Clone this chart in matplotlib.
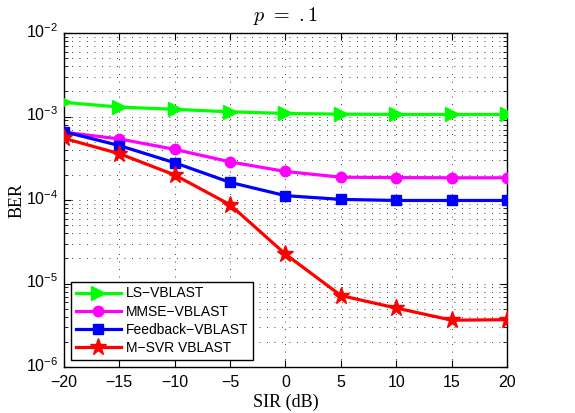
import matplotlib
matplotlib.use("Agg")
import matplotlib.pyplot as plt
import matplotlib.transforms as mtransforms
import numpy as np

sir = [-20, -15, -10, -5, 0, 5, 10, 15, 20]
ls_vblast = [1.48e-3, 1.30e-3, 1.22e-3, 1.14e-3, 1.09e-3, 1.07e-3, 1.06e-3, 1.06e-3, 1.06e-3]
mmse_vblast = [6.5e-4, 5.4e-4, 4.05e-4, 2.87e-4, 2.2e-4, 1.88e-4, 1.86e-4, 1.85e-4, 1.85e-4]
fb_vblast = [6.6e-4, 4.5e-4, 2.8e-4, 1.63e-4, 1.13e-4, 1.02e-4, 0.99e-4, 0.99e-4, 0.99e-4]
msvr_vblast = [5.5e-4, 3.6e-4, 2.0e-4, 8.8e-5, 2.25e-5, 7.2e-6, 5.1e-6, 3.65e-6, 3.7e-6]
labels = ["LS\u2212VBLAST", "MMSE\u2212VBLAST", "Feedback\u2212VBLAST", "M\u2212SVR VBLAST"]
xticks = [-20, -15, -10, -5, 0, 5, 10, 15, 20]

plt.rcParams['font.family'] = ['Liberation Sans', 'DejaVu Sans']
plt.rcParams['mathtext.fontset'] = 'custom'
plt.rcParams['mathtext.rm'] = 'Liberation Sans'
plt.rcParams['mathtext.it'] = 'Liberation Sans:italic'
plt.rcParams['mathtext.bf'] = 'Liberation Sans:bold'

fig = plt.figure(figsize=(5.75, 4.13), dpi=100)
ax = fig.add_axes([0.111, 0.111, 0.771, 0.809])

lw = 2.3
ax.plot(sir, ls_vblast, color='#00ff00', lw=lw, marker='>', ms=10, label=labels[0], zorder=3)
ax.plot(sir, mmse_vblast, color='#ff00ff', lw=lw, marker='o', ms=7.5, label=labels[1], zorder=3)
ax.plot(sir, fb_vblast, color='#0000ff', lw=lw, marker='s', ms=6.5, label=labels[2], zorder=3)
ax.plot(sir, msvr_vblast, color='#ff0000', lw=lw, marker='*', ms=12.5, label=labels[3], zorder=4)

ax.set_yscale('log')
ax.set_xlim(-20, 20)
ax.set_ylim(1e-6, 1e-2)
ax.set_xticks(xticks)
ax.set_xticklabels([str(v).replace('-', '\u2212') for v in xticks])

ax.grid(True, which='major', axis='x', color='black', linestyle=(0, (1, 8)), lw=0.6)
ax.grid(True, which='both', axis='y', color='black', linestyle=(0, (1, 8)), lw=0.6)
ax.tick_params(which='both', direction='in', top=True, right=True, labelsize=11.5)
ax.tick_params(axis='x', which='major', pad=6)
ax.tick_params(axis='y', which='major', pad=4)
ax.tick_params(which='major', length=5)
ax.tick_params(which='minor', length=3)
for s in ax.spines.values():
    s.set_linewidth(1.0)

fig.canvas.draw()
shift = mtransforms.ScaledTranslation(0, 3 / 100, fig.dpi_scale_trans)
for lab in ax.get_yticklabels():
    lab.set_transform(lab.get_transform() + shift)

ax.set_xlabel('SIR (dB)', family='Liberation Serif', fontsize=13)
ax.set_ylabel('BER', family='Liberation Serif', fontsize=13)
ax.yaxis.set_label_coords(-0.086, 0.5)
ax.xaxis.set_label_coords(0.5, -0.08)
ax.set_title(r'$p\ =\ .1$', math_fontfamily='cm', fontsize=14.5, pad=9)

leg = ax.legend(loc='lower left', bbox_to_anchor=(0.017, 0.022), fontsize=10,
                frameon=True, fancybox=False, edgecolor='black', framealpha=1,
                handlelength=3.2, borderpad=0.35, labelspacing=0.3, handletextpad=0.35,
                borderaxespad=0)
leg.get_frame().set_linewidth(1.0)

fig.savefig('out.png', dpi=100)
